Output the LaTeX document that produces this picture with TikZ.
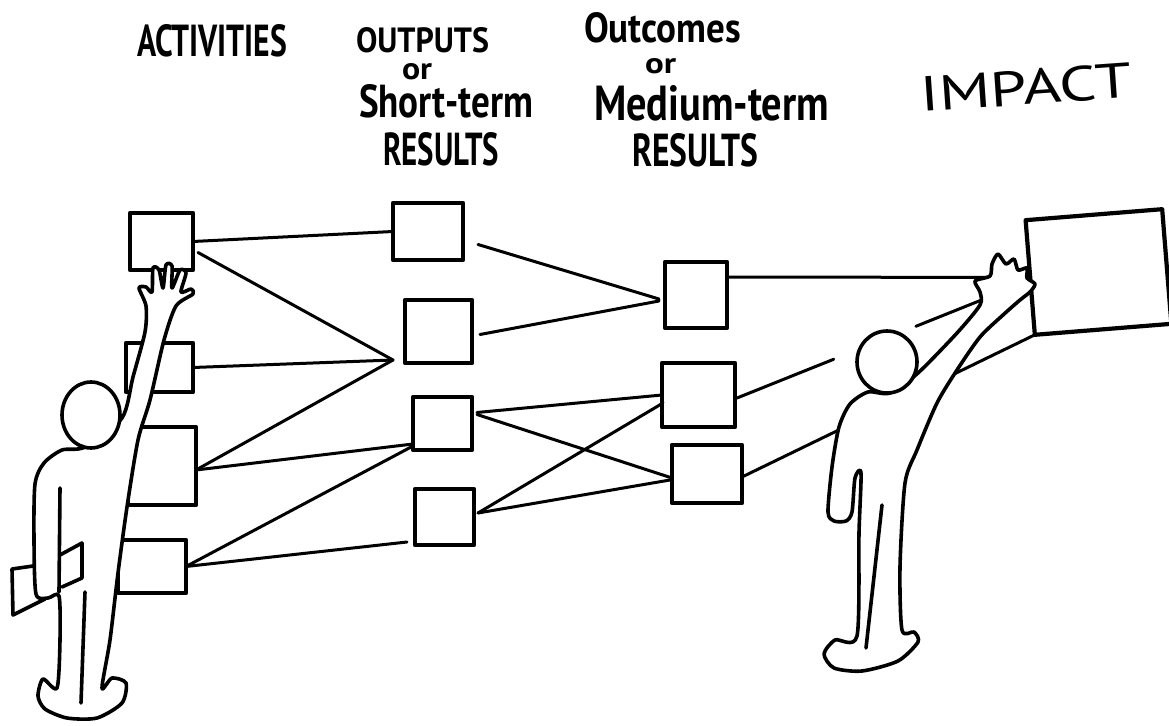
\documentclass[tikz,border=0pt]{standalone}
\usepackage{graphicx}
\usepackage{fontspec}
\setmainfont{PT Sans}
\usetikzlibrary{calc}
\newcommand{\handtxt}[3]{\resizebox{#1bp}{#2bp}{#3}}
\tikzset{
  box/.style={draw=black, fill=white, line width=4.2bp, inner sep=0pt, outer sep=0pt, line join=round},
  conn/.style={draw=black, line width=3bp, line cap=round},
  fig/.style={draw=black, fill=white, line width=3.6bp, line join=round, line cap=round},
  figline/.style={draw=black, line width=3.6bp, line cap=round, line join=round},
  lbl/.style={anchor=base west, inner sep=0pt, outer sep=0pt, font=\bfseries},
  lblthin/.style={anchor=base west, inner sep=0pt, outer sep=0pt, font=\mdseries}
}
\begin{document}
\begin{tikzpicture}[x=1bp, y=-1bp]
\useasboundingbox (0,0) rectangle (1169,726);
\fill[white] (0,0) rectangle (1169,726);

% ---- headings ----
\node[lbl] (tAct) at (137,57) {\handtxt{150}{32}{ACTIVITIES}};
\node[lbl] (tOut1) at (356,53) {\handtxt{133}{25}{OUTPUTS}};
\node[lbl] (tOut2) at (402,80) {\handtxt{30}{16}{or}};
\node[lbl] (tOut3) at (359,118) {\handtxt{174}{33}{Short-term}};
\node[lbl] (tOut4) at (383,166) {\handtxt{116}{33}{RESULTS}};
\node[lbl] (tOc1) at (584,43) {\handtxt{157}{30}{Outcomes}};
\node[lbl] (tOc2) at (645,74) {\handtxt{31}{15}{or}};
\node[lbl] (tOc3) at (594,121) {\handtxt{235}{35}{Medium-term}};
\node[lbl] (tOc4) at (632,167) {\handtxt{126}{33}{RESULTS}};
\node[lblthin, rotate=4] (tImp) at (921,112) {\handtxt{212}{35}{IMPACT}};

% ---- boxes ----
\node[box, minimum width=63bp, minimum height=57bp] (A1) at (161.5,241.5) {};
\node[box, minimum width=67bp, minimum height=49bp] (A2) at (159.5,367.5) {};
\node[box, minimum width=68bp, minimum height=78bp] (A3) at (162,466) {};
\node[box, minimum width=68bp, minimum height=53bp] (A4) at (152,566.5) {};

\node[box, minimum width=70bp, minimum height=57bp] (O1) at (428,231.5) {};
\node[box, minimum width=67bp, minimum height=63bp] (O2) at (438.5,331.5) {};
\node[box, minimum width=59bp, minimum height=53bp] (O3) at (442.5,423.5) {};
\node[box, minimum width=59bp, minimum height=56bp] (O4) at (444.5,517) {};

\node[box, minimum width=62bp, minimum height=66bp] (M1) at (696,295) {};
\node[box, minimum width=73bp, minimum height=64bp] (M2) at (698.5,395) {};
\node[box, minimum width=70bp, minimum height=58bp] (M3) at (707,474) {};

\node[box, minimum width=137bp, minimum height=115bp, rotate=4.6] (Impact) at (1098.5,272) {};

% ---- connectors ----
\coordinate (P) at (393,360);
\draw[conn] (A1.east) -- (O1.west);
\draw[conn] ($(A1.east)+(5,11)$) -- (P);
\draw[conn] (A2.east) -- (P);
\draw[conn] (P) -- ($(A3.east)+(0,4)$);
\draw[conn] ($(A3.east)+(0,4)$) -- ($(O3.south west)+(0,-6)$);
\draw[conn] (A4.east) -- ($(O3.south west)+(0,-4)$);
\draw[conn] (A4.east) -- ($(O4.south west)+(-8,-3)$);

\draw[conn] ($(O1.east)+(15,13)$) -- ($(M1.west)+(-6,4)$);
\draw[conn] ($(O2.east)+(8,3)$) -- ($(M1.west)+(-6,6)$);
\draw[conn] ($(O3.east)+(5,-11)$) -- (M2.west);
\draw[conn] ($(O3.east)+(5,-9)$) -- ($(M3.west)+(0,4)$);
\draw[conn] ($(O4.east)+(4,-4)$) -- ($(M2.west)+(1,8)$);
\draw[conn] ($(O4.east)+(4,-4)$) -- ($(M3.west)+(-2,6)$);

\draw[conn] ($(M1.east)+(1,-18)$) -- (Impact.west);
\coordinate (m2s) at ($(M2.east)+(2,3)$);
\coordinate (m2e) at ($(Impact.west)+(0,3)$);
\draw[conn] (m2s) -- ($(m2s)!0.33!(m2e)$)
            ($(m2s)!0.61!(m2e)$) -- (m2e);
\draw[conn] ($(M3.east)+(0,3)$) -- (Impact.south west);

% ---- left figure ----
\draw[fig] plot[smooth cycle, tension=0.45] coordinates {
 (122,418) (133,377) (145,332) (146,306) (139,288) (146,287) (152,292) (153,268)
 (159,270) (163,288) (166,265) (172,266) (172,288) (180,270) (186,273) (181,292)
 (191,289) (193,294) (176,306) (164,340) (150,400) (138,440) (127,507) (118,573)
 (110,640) (102,688) (112,678) (126,683) (122,703) (97,718) (67,718) (45,709)
 (38,696) (43,679) (57,688) (60,640) (59,596) (48,598) (36,594) (34,540)
 (35,484) (44,463) (62,450) (85,447)};
\draw[figline] (60,488) -- (59,592);
\draw[figline] (85,592) -- (81,703);
\draw[fig] (91,415) ellipse [x radius=29, y radius=33];
% held sheet
\draw[figline] (33,566) -- (12,569) -- (13,615) -- (45,599);
\draw[figline] (60,555) -- (82,543) -- (82,578) -- (62,587);

% ---- right figure ----
\draw[fig] plot[smooth cycle, tension=0.45] coordinates {
 (868,392) (850,404) (839,427) (832,467) (828,512) (834,521) (846,521) (852,512)
 (855,478) (861,473) (859,533) (857,636) (835,640) (824,654) (834,668) (862,671)
 (898,661) (918,642) (914,632) (902,630) (900,567) (905,483) (917,450) (937,403)
 (957,370) (980,337) (1003,315) (1020,300) (1030,292) (1035,284) (1027,278)
 (1027,268) (1018,270) (1014,259) (1006,264) (998,254) (992,264) (990,276)
 (975,281) (980,292) (980,305) (957,333) (918,373) (890,393)};
\draw[figline] (882,505) -- (866,648);
\draw[fig] (887,362) ellipse [x radius=30, y radius=31];
\end{tikzpicture}
\end{document}
